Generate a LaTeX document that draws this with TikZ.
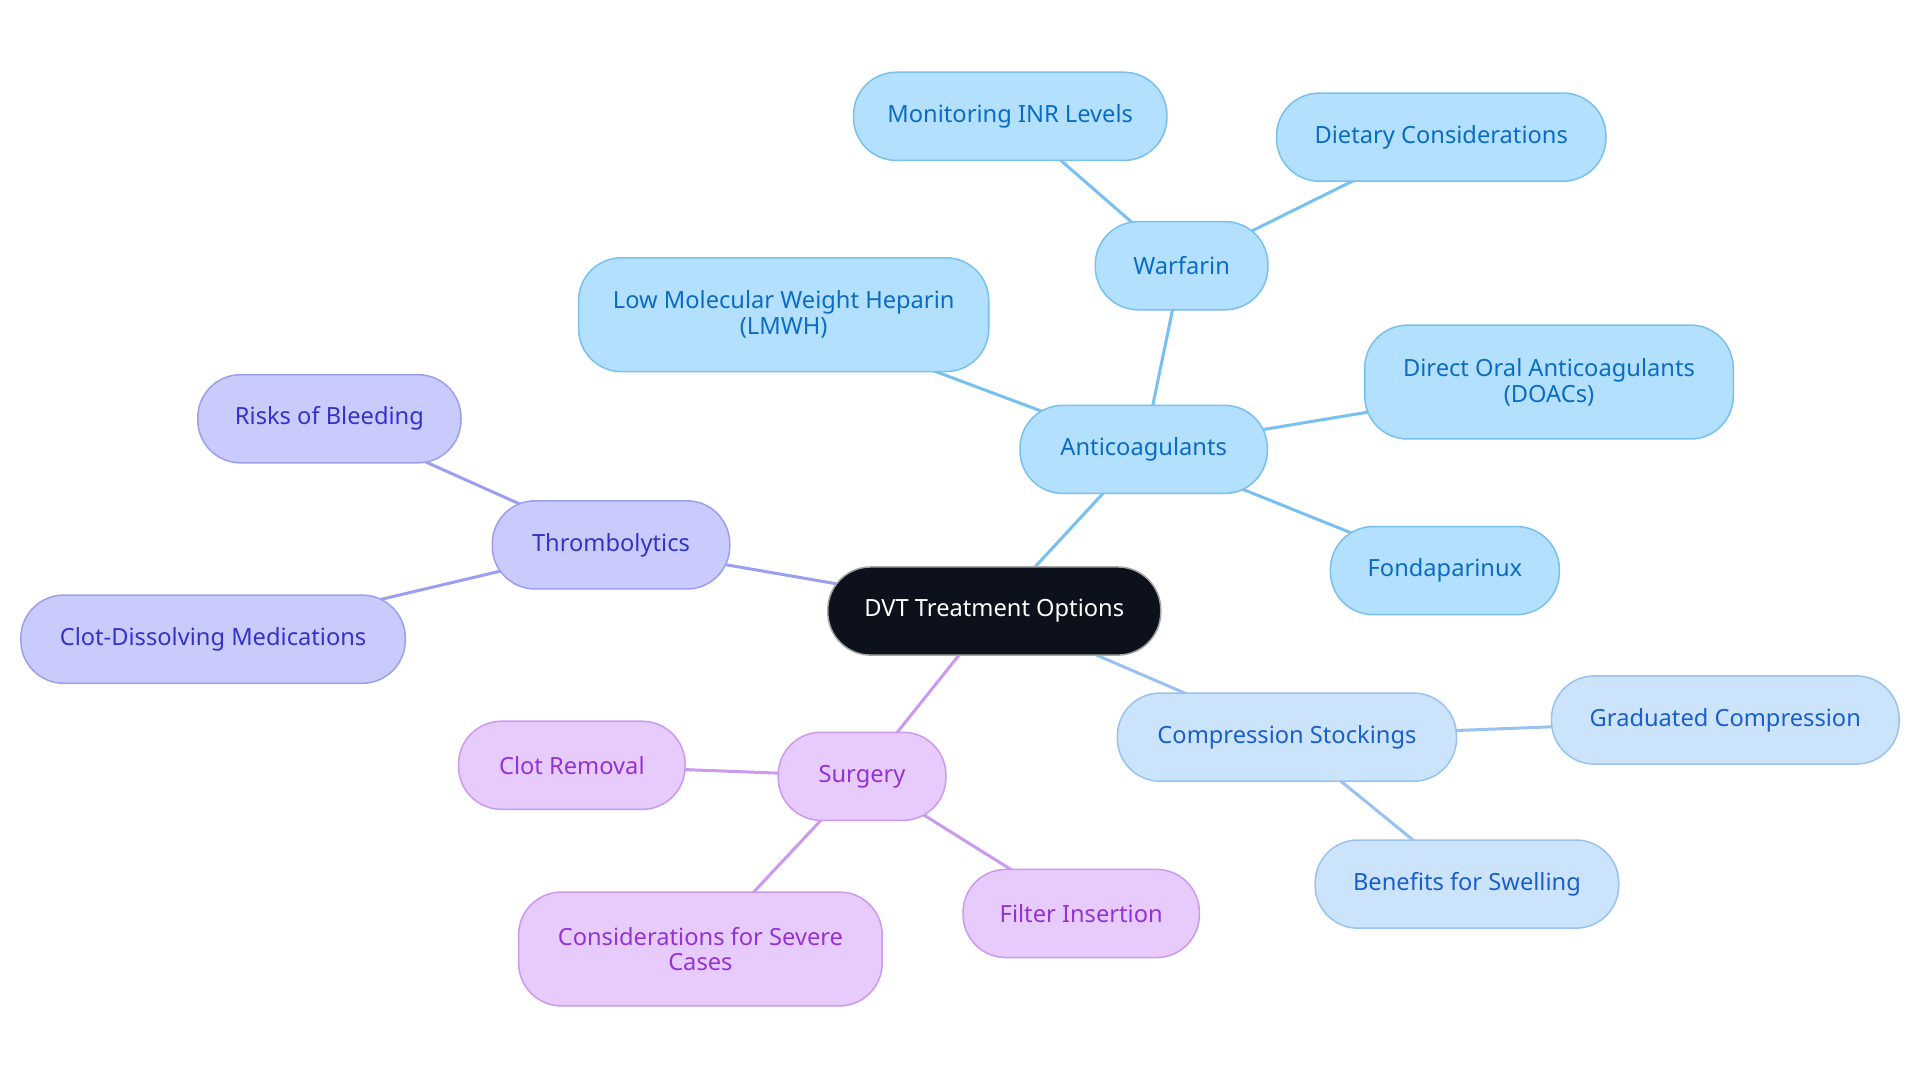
\documentclass[tikz,border=0pt]{standalone}
\usepackage{fontspec}
\setmainfont{Noto Sans}
\usepackage{xcolor}
\usepackage{tikz}
\pgfdeclarelayer{background}
\pgfdeclarelayer{foreground}
\pgfsetlayers{background,main,foreground}

\definecolor{rootfill}{HTML}{0C111B}
\definecolor{antifill}{HTML}{B3E0FF}
\definecolor{antidraw}{HTML}{78C0F0}
\definecolor{antitext}{HTML}{0B6CC4}
\definecolor{compfill}{HTML}{CCE3FC}
\definecolor{compdraw}{HTML}{99C2F0}
\definecolor{comptext}{HTML}{1A5FCC}
\definecolor{thromfill}{HTML}{CACBFD}
\definecolor{thromdraw}{HTML}{9C9EF0}
\definecolor{thromtext}{HTML}{3333C8}
\definecolor{surgfill}{HTML}{E7CBFD}
\definecolor{surgdraw}{HTML}{CC99F0}
\definecolor{surgtext}{HTML}{9333D6}

\begin{document}
\begin{tikzpicture}[x=0.02cm,y=-0.02cm,
  box/.style={rounded corners=0.7cm,minimum height=1.44cm,inner sep=0pt,
    align=center,line width=0.7pt,font=\fontsize{11}{12}\selectfont},
  tall/.style={minimum height=1.86cm},
  rootbox/.style={box,fill=rootfill,draw=gray!70,text=white},
  antibox/.style={box,fill=antifill,draw=antidraw,text=antitext},
  compbox/.style={box,fill=compfill,draw=compdraw,text=comptext},
  thrombox/.style={box,fill=thromfill,draw=thromdraw,text=thromtext},
  surgbox/.style={box,fill=surgfill,draw=surgdraw,text=surgtext},
  link/.style={line width=1.4pt}]
  \useasboundingbox (0,0) rectangle (1568,884.4);
  \node[rootbox,minimum width=5.44cm] (dvt) at (812,499) {DVT Treatment Options};
  % anticoagulants
  \node[antibox,minimum width=4.04cm] (anti) at (934,367) {Anticoagulants};
  \node[antibox,minimum width=2.82cm] (warf) at (965,217) {Warfarin};
  \node[antibox,minimum width=5.12cm] (inr) at (825,95) {Monitoring INR Levels};
  \node[antibox,minimum width=5.38cm] (diet) at (1177,112) {Dietary Considerations};
  \node[antibox,tall,minimum width=6.70cm] (lmwh) at (640,257) {Low Molecular Weight Heparin\\(LMWH)};
  \node[antibox,tall,minimum width=6.02cm] (doac) at (1265,312) {Direct Oral Anticoagulants\\(DOACs)};
  \node[antibox,minimum width=3.74cm] (fonda) at (1180,466) {Fondaparinux};
  % thrombolytics
  \node[thrombox,minimum width=3.88cm] (throm) at (499,445) {Thrombolytics};
  \node[thrombox,minimum width=4.30cm] (risk) at (269,342) {Risks of Bleeding};
  \node[thrombox,minimum width=6.28cm] (clotdis) at (174,522) {Clot-Dissolving Medications};
  % compression
  \node[compbox,minimum width=5.54cm] (comp) at (1051,602) {Compression Stockings};
  \node[compbox,minimum width=5.68cm] (grad) at (1409,588) {Graduated Compression};
  \node[compbox,minimum width=4.96cm] (swell) at (1198,722) {Benefits for Swelling};
  % surgery
  \node[surgbox,minimum width=2.74cm] (surg) at (704,634) {Surgery};
  \node[surgbox,minimum width=3.70cm] (clotrem) at (467,625) {Clot Removal};
  \node[surgbox,tall,minimum width=5.94cm] (severe) at (572,775) {Considerations for Severe\\Cases};
  \node[surgbox,minimum width=3.86cm] (filter) at (883,746) {Filter Insertion};
  \begin{pgfonlayer}{background}
    \draw[link,antidraw] (dvt.center) to (anti.center);
    \draw[link,antidraw] (anti.center) to (warf.center);
    \draw[link,antidraw] (warf.center) to (inr.center);
    \draw[link,antidraw] (warf.center) to (diet.center);
    \draw[link,antidraw] (anti.center) to (lmwh.center);
    \draw[link,antidraw] (anti.center) to (doac.center);
    \draw[link,antidraw] (anti.center) to (fonda.center);
    \draw[link,thromdraw] (dvt.center) to (throm.center);
    \draw[link,thromdraw] (throm.center) to (risk.center);
    \draw[link,thromdraw] (throm.center) to (clotdis.center);
    \draw[link,compdraw] (dvt.center) to (comp.center);
    \draw[link,compdraw] (comp.center) to (grad.center);
    \draw[link,compdraw] (comp.center) to (swell.center);
    \draw[link,surgdraw] (dvt.center) to (surg.center);
    \draw[link,surgdraw] (surg.center) to (clotrem.center);
    \draw[link,surgdraw] (surg.center) to (severe.center);
    \draw[link,surgdraw] (surg.center) to (filter.center);
  \end{pgfonlayer}
\end{tikzpicture}
\end{document}
